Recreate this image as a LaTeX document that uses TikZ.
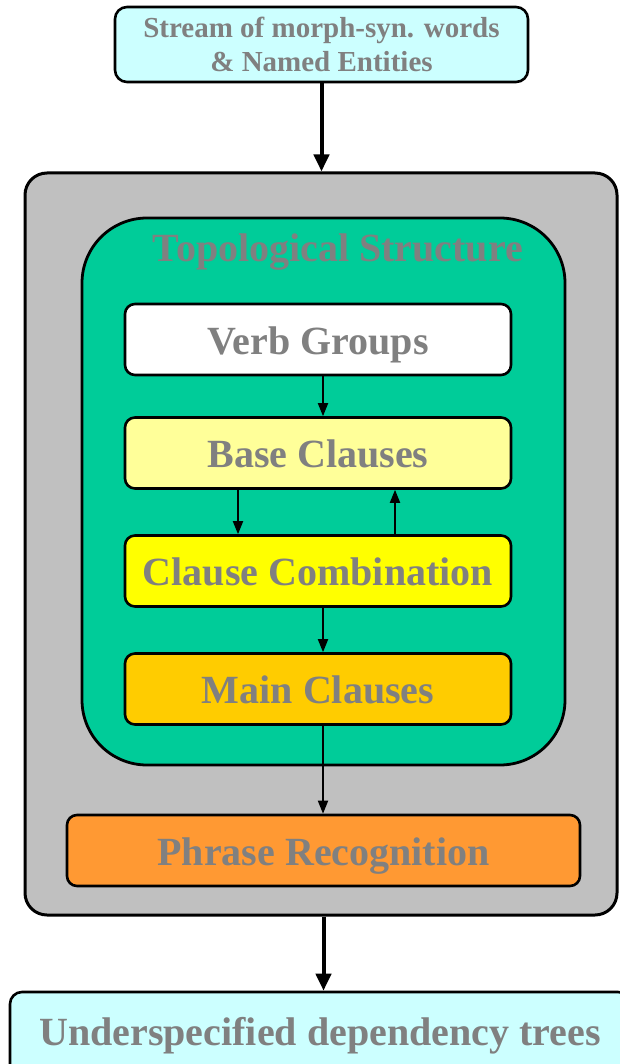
\documentclass[tikz,border=0pt]{standalone}
\usepackage{fontspec}
\setmainfont{Liberation Serif}
\usetikzlibrary{arrows.meta}
\definecolor{cyanbox}{HTML}{CCFFFF}
\definecolor{graybox}{HTML}{C0C0C0}
\definecolor{greenbox}{HTML}{00CC99}
\definecolor{lightyel}{HTML}{FFFF99}
\definecolor{yel}{HTML}{FFFF00}
\definecolor{gold}{HTML}{FFCC00}
\definecolor{orng}{HTML}{FF9933}
\definecolor{txtgray}{HTML}{808080}
\tikzset{
  stagebox/.style={draw=black, line width=2.6pt, rounded corners=10pt, inner sep=0pt,
    minimum width=386pt, minimum height=71pt, text=txtgray,
    text height=29pt, text depth=0pt,
    font=\fontsize{40}{44}\selectfont\bfseries},
  thinarrow/.style={line width=1.8pt, -{Triangle[length=13pt,width=10pt]}},
  thickarrow/.style={line width=4pt, -{Triangle[length=17pt,width=15pt]}},
}
\begin{document}
\begin{tikzpicture}[x=1pt,y=-1pt]
\useasboundingbox (0,0) rectangle (619,1064);
% outer gray box
\node[draw=black, line width=3pt, fill=graybox, rounded corners=22pt,
  minimum width=592pt, minimum height=742pt, inner sep=0pt] (gray) at (321,544) {};
% green box
\node[draw=black, line width=2.8pt, fill=greenbox, rounded corners=65pt,
  minimum width=483pt, minimum height=547pt, inner sep=0pt] (green) at (323.5,491.5) {};
\node[text=txtgray, font=\fontsize{40}{44}\selectfont\bfseries, inner sep=0pt,
  text height=29pt, text depth=0pt] (title) at (338,247) {Topological Structure};
% top box
\node[draw=black, line width=2.6pt, fill=cyanbox, rounded corners=12pt,
  minimum width=413pt, minimum height=75pt, inner sep=0pt, align=center,
  text=txtgray, font=\fontsize{29}{34}\selectfont\bfseries] (top) at (321.5,44.5)
  {Stream of morph-syn. words\\ \& Named Entities};
% stages
\node[stagebox, fill=white] (verb) at (318,339.5) {Verb Groups};
\node[stagebox, fill=lightyel] (base) at (318,453) {Base Clauses};
\node[stagebox, fill=yel] (comb) at (318,571) {Clause Combination};
\node[stagebox, fill=gold] (main) at (318,689) {Main Clauses};
\node[stagebox, fill=orng, minimum width=513pt] (phrase) at (323.5,850.5) {Phrase Recognition};
% bottom box
\node[draw=black, line width=2.6pt, fill=cyanbox, rounded corners=12pt,
  minimum width=620pt, minimum height=86pt, inner sep=0pt,
  text height=20pt, text depth=0pt,
  text=txtgray, font=\fontsize{40}{44}\selectfont\bfseries] (bottom) at (320,1035)
  {Underspecified dependency trees};
% arrows
\draw[thickarrow] (top.south) -- (top.south |- gray.north);
\draw[thinarrow] ([xshift=5pt]verb.south) -- ([xshift=5pt]base.north);
\draw[thinarrow] ([xshift=-80pt]base.south) -- ([xshift=-80pt]comb.north);
\draw[thinarrow] ([xshift=77pt]comb.north) -- ([xshift=77pt]base.south);
\draw[thinarrow] ([xshift=5pt]comb.south) -- ([xshift=5pt]main.north);
\draw[thinarrow] ([xshift=5pt]main.south) -- ([xshift=5pt]main.south |- phrase.north);
\draw[thickarrow] (phrase.north |- gray.south) -- (phrase.north |- bottom.north);
\end{tikzpicture}
\end{document}
